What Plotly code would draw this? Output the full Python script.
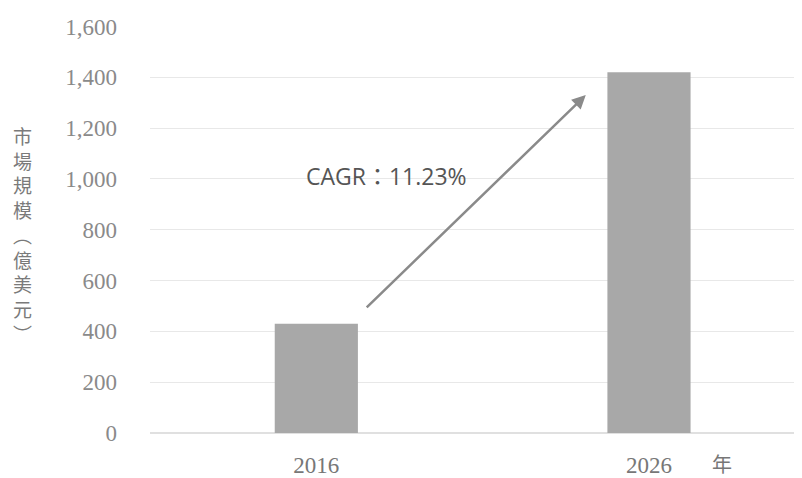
import plotly.graph_objects as go

categories = ["2016", "2026"]
values = [430, 1420]
y_ticks = [0, 200, 400, 600, 800, 1000, 1200, 1400, 1600]
y_title_chars = ["市", "場", "規", "模", "︵", "億", "美", "元", "︶"]
cagr_text = "CAGR：11.23%"
x_unit_label = "年"
arrow_tail = (0.147, 489)
arrow_head = (0.81, 1330)
text_pos = (0.21, 1010)

# page body has an 8px default margin; plot area target: x 150..802, y 26..435 in window
PLOT_L, PLOT_R, PLOT_T, PLOT_B = 150, 802, 26, 435
OFF = 8
W, H = 802 - OFF, 478 - OFF
pw, ph = PLOT_R - PLOT_L, PLOT_B - PLOT_T

fig = go.Figure()
fig.add_trace(go.Bar(
    x=[0, 1], y=values, width=0.25,
    marker=dict(color="#a8a8a8", line=dict(width=0)),
))

fig.add_annotation(
    x=arrow_head[0], y=arrow_head[1], ax=arrow_tail[0], ay=arrow_tail[1],
    xref="x", yref="y", axref="x", ayref="y",
    showarrow=True, arrowhead=2, arrowsize=1.1, arrowwidth=2.5, arrowcolor="#8a8a8a",
    text="",
)
fig.add_annotation(
    x=text_pos[0], y=text_pos[1], xref="x", yref="y", showarrow=False,
    text=cagr_text, font=dict(family="Open Sans, Noto Sans CJK TC", size=23, color="#555555"),
)
fig.add_annotation(
    x=(722 - PLOT_L) / pw, y=-(466 - PLOT_B) / ph, xref="paper", yref="paper",
    xanchor="center", yanchor="middle", showarrow=False,
    text=x_unit_label, font=dict(family="Noto Sans CJK TC", size=20, color="#777777"),
)
# vertical axis title, one character per line
fig.add_annotation(
    x=(22 - PLOT_L) / pw, y=(PLOT_B - 236) / ph, xref="paper", yref="paper",
    xanchor="center", yanchor="middle", showarrow=False,
    text="<br>".join(y_title_chars),
    font=dict(family="Noto Sans CJK TC", size=19, color="#7a7a7a"),
)

fig.update_layout(
    width=W, height=H,
    margin=dict(l=PLOT_L - OFF, r=0, t=PLOT_T - OFF, b=H - (PLOT_B - OFF)),
    paper_bgcolor="white", plot_bgcolor="white",
    showlegend=False,
    xaxis=dict(
        range=[-0.5, 1.46], tickmode="array", tickvals=[0, 1], ticktext=categories,
        showgrid=False, zeroline=False, showline=False, ticks="",
        tickfont=dict(family="Liberation Serif, DejaVu Serif", size=23, color="#777777"),
        ticklabelstandoff=16,
    ),
    yaxis=dict(
        range=[0, 1602], tickvals=y_ticks, tickformat=",d",
        showgrid=True, gridcolor="#e8e8e8", gridwidth=1, zeroline=True, zerolinecolor="#e0e0e0",
        showline=False, ticks="",
        tickfont=dict(family="Liberation Serif, DejaVu Serif", size=23, color="#8a8a8a"),
        ticklabelstandoff=32,
    ),
)

fig.write_html("out.html")
